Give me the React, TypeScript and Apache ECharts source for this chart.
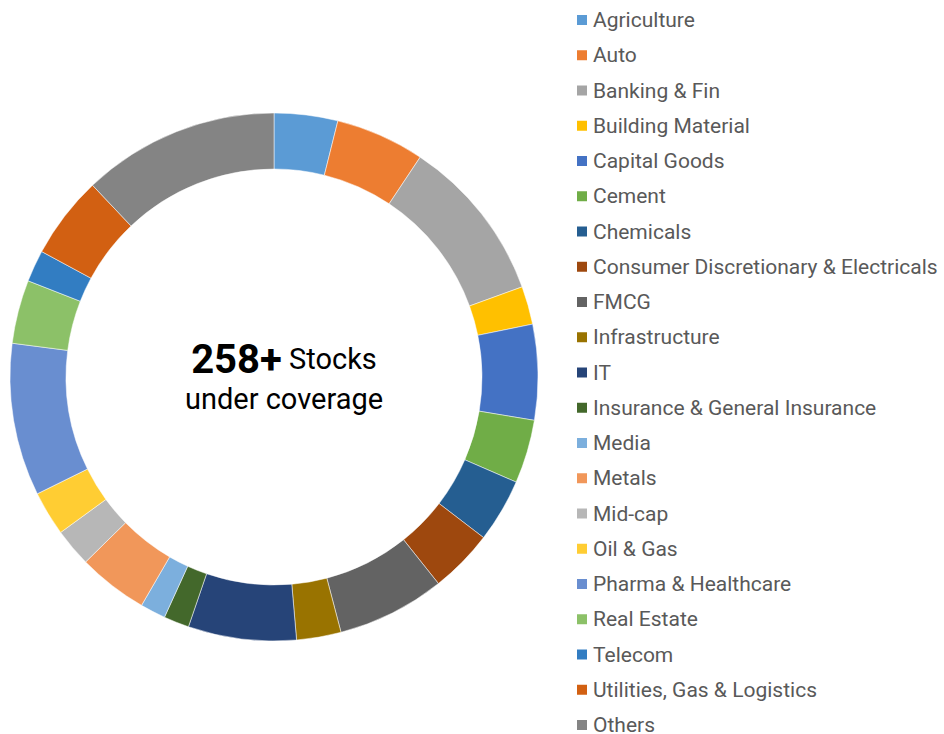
import React, { useEffect, useRef } from "react";
import * as echarts from "echarts";

const categories = [
  "Agriculture",
  "Auto",
  "Banking & Fin",
  "Building Material",
  "Capital Goods",
  "Cement",
  "Chemicals",
  "Consumer Discretionary & Electricals",
  "FMCG",
  "Infrastructure",
  "IT",
  "Insurance & General Insurance",
  "Media",
  "Metals",
  "Mid-cap",
  "Oil & Gas",
  "Pharma & Healthcare",
  "Real Estate",
  "Telecom",
  "Utilities, Gas & Logistics",
  "Others",
];

const stockCounts = [10, 14, 26, 6, 15, 10, 10, 10, 17, 7, 17, 4, 4, 11, 6, 7, 24, 10, 5, 13, 31];

const sliceColors = [
  "#5B9BD5",
  "#ED7D31",
  "#A5A5A5",
  "#FFC000",
  "#4472C4",
  "#70AD47",
  "#255E91",
  "#9E480E",
  "#636363",
  "#997300",
  "#264478",
  "#43682B",
  "#7CAFDD",
  "#F1975A",
  "#B7B7B7",
  "#FFCD33",
  "#698ED0",
  "#8CC168",
  "#327DC2",
  "#D26012",
  "#848484",
];

const centerBig = "258+";
const centerLine1 = "Stocks";
const centerLine2 = "under coverage";

export default function App() {
  const ref = useRef<HTMLDivElement>(null);

  useEffect(() => {
    if (!ref.current) return;
    const chart = echarts.init(ref.current, null, { renderer: "svg" });
    const data = categories.map((name, i) => ({
      name,
      value: stockCounts[i],
      itemStyle: { color: sliceColors[i] },
    }));
    chart.setOption({
      animation: false,
      textStyle: { fontFamily: "Roboto" },
      legend: {
        orient: "vertical",
        left: 575,
        top: 8,
        height: 800,
        padding: 0,
        itemWidth: 12,
        itemHeight: 12,
        itemGap: 11.25,
        icon: "rect",
        selectedMode: false,
        textStyle: {
          fontFamily: "Roboto",
          fontSize: 21,
          color: "#595959",
          lineHeight: 24,
        },
        data: categories,
      },
      graphic: [
        {
          type: "text",
          x: 284,
          y: 379,
          style: {
            text: `{a|${centerBig}}{b| ${centerLine1}}\n{b|${centerLine2}}`,
            align: "center",
            verticalAlign: "middle",
            fill: "#000",
            rich: {
              a: { fontFamily: "Roboto", fontSize: 40, fontWeight: "bold", fill: "#000", lineHeight: 40 },
              b: { fontFamily: "Roboto", fontSize: 29, fill: "#000", lineHeight: 40 },
            },
          },
        },
      ],
      series: [
        {
          type: "pie",
          center: [274, 377],
          radius: [208, 264],
          startAngle: 90,
          clockwise: true,
          label: { show: false },
          labelLine: { show: false },
          emphasis: { disabled: true },
          itemStyle: { borderColor: "#ffffff", borderWidth: 0.5 },
          data,
        },
      ],
    });
    return () => chart.dispose();
  }, []);

  return (
    <div
      ref={ref}
      style={{ position: "absolute", left: 0, top: 0, width: 944, height: 734 }}
    />
  );
}
